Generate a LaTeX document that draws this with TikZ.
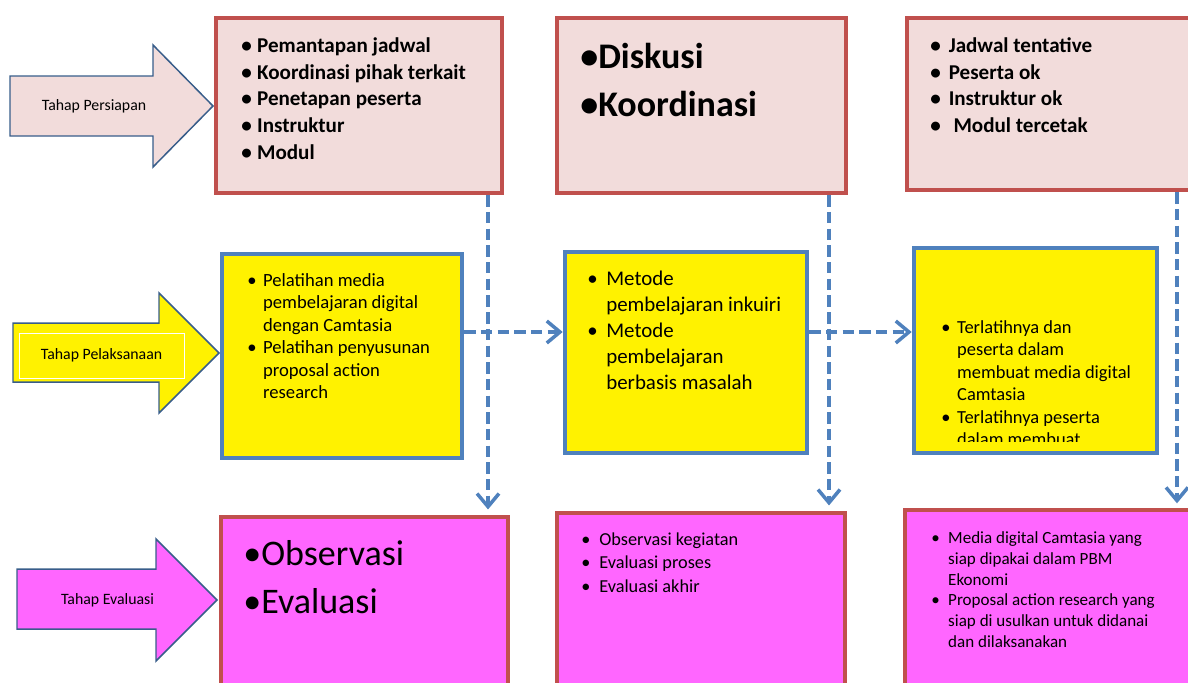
\documentclass[tikz,border=0pt]{standalone}
\usepackage{fontspec}
\setmainfont{Carlito}
\usetikzlibrary{arrows.meta,fit}

\definecolor{boxpink}{HTML}{F2DCDB}
\definecolor{boxred}{HTML}{C0504D}
\definecolor{boxblue}{HTML}{4F81BD}
\definecolor{arrowline}{HTML}{385D8A}
\definecolor{evalpink}{HTML}{FF66FF}

\newlength{\bulw}
\newcommand{\bul}{\makebox[\bulw][l]{\textbullet}}
\newcommand{\cont}{\hspace*{\bulw}}

\tikzset{
  redbox/.style={draw=boxred, line width=2.6pt, inner sep=0pt},
  bluebox/.style={draw=boxblue, line width=2.6pt, fill=yellow, inner sep=0pt},
  phase/.style={draw=arrowline, line width=0.85pt, line join=miter},
  phaselabel/.style={font=\fontsize{9}{11}\selectfont},
  list/.style={anchor=north west, inner sep=0pt, align=left},
  flow/.style={draw=boxblue, line width=2pt, dash pattern=on 6.5pt off 3pt,
    -{Straight Barb[length=7.5pt,width=12.5pt]}},
}

\begin{document}
\begin{tikzpicture}[x=0.02cm, y=-0.02cm]
  \useasboundingbox (0,0) rectangle (1188,683);
  \clip (0,0) rectangle (1188,683);

  % phase arrows
  \filldraw[phase, fill=boxpink] (10,76) -- (153,76) -- (153,45) -- (213,106)
    -- (153,167) -- (153,136) -- (10,136) -- cycle;
  \filldraw[phase, fill=yellow] (13,323) -- (159,323) -- (159,293) -- (219,353)
    -- (159,413) -- (159,382) -- (13,382) -- cycle;
  \filldraw[phase, fill=evalpink] (17,569) -- (156,569) -- (156,539) -- (217,600)
    -- (156,661) -- (156,629) -- (17,629) -- cycle;

  \node[phaselabel] (lprep) at (94,106) {Tahap Persiapan};
  \node[phaselabel, draw=white, line width=0.4pt, minimum width=165*0.02cm,
    minimum height=45*0.02cm] (limpl) at (101.5,355.5) {Tahap Pelaksanaan};
  \node[phaselabel] (leval) at (107.5,600) {Tahap Evaluasi};

  % boxes
  \node[redbox, fill=boxpink, fit={(216,18) (502,193)}] (prep1) {};
  \node[redbox, fill=boxpink, fit={(557,18) (846,193)}] (prep2) {};
  \node[redbox, fill=boxpink, fit={(907,18) (1200,190)}] (prep3) {};
  \node[bluebox, fit={(222,254) (462,458)}] (impl1) {};
  \node[bluebox, fit={(565,252) (807,453)}] (impl2) {};
  \node[bluebox, fit={(914,248) (1157,453)}] (impl3) {};
  \node[redbox, fill=evalpink, fit={(221,517) (508,700)}] (eval1) {};
  \node[redbox, fill=evalpink, fit={(557,513) (845,700)}] (eval2) {};
  \node[redbox, fill=evalpink, fit={(905,510) (1200,700)}] (eval3) {};

  % texts
  \node[list, font={\setlength\bulw{9pt}\fontsize{12}{15.3}\selectfont\bfseries}] (tprep1) at (241,37)
    {\bul Pemantapan jadwal\\ \bul Koordinasi pihak terkait\\ \bul Penetapan peserta\\
     \bul Instruktur\\ \bul Modul};
  \node[list, font={\fontsize{20.5}{27.2}\selectfont\bfseries}] (tprep2) at (580,43)
    {\textbullet Diskusi\\ \textbullet Koordinasi};
  \node[list, font={\setlength\bulw{10.5pt}\fontsize{12}{15.3}\selectfont\bfseries}] (tprep3) at (930,37)
    {\bul Jadwal tentative\\ \bul Peserta ok\\ \bul Instruktur ok\\ \bul\ Modul tercetak};

  \node[list, font={\setlength\bulw{9pt}\fontsize{10.6}{12.8}\selectfont}] (timpl1) at (247,273)
    {\bul Pelatihan media\\ \cont pembelajaran digital\\ \cont dengan Camtasia\\
     \bul Pelatihan penyusunan\\ \cont proposal action\\ \cont research};
  \node[list, font={\setlength\bulw{10.8pt}\fontsize{11.9}{14.7}\selectfont}] (timpl2) at (587,271)
    {\bul Metode\\ \cont pembelajaran inkuiri\\ \bul Metode\\ \cont pembelajaran\\
     \cont berbasis masalah};
  \begin{scope}
    \clip (914,248) rectangle (1157,441);
    \node[list, font={\setlength\bulw{9pt}\fontsize{10.5}{12.8}\selectfont}] (timpl3) at (941,320)
      {\bul Terlatihnya dan\\ \cont peserta dalam\\ \cont membuat media digital\\
       \cont Camtasia\\ \bul Terlatihnya peserta\\ \cont dalam membuat};
  \end{scope}

  \node[list, font={\fontsize{20.5}{27.2}\selectfont}] (teval1) at (243,540)
    {\textbullet Observasi\\ \textbullet Evaluasi};
  \node[list, font={\setlength\bulw{10.2pt}\fontsize{10.4}{13.6}\selectfont}] (teval2) at (581,532)
    {\bul Observasi kegiatan\\ \bul Evaluasi proses\\ \bul Evaluasi akhir};
  \node[list, font={\setlength\bulw{9.6pt}\fontsize{9.7}{11.9}\selectfont}] (teval3) at (931,531)
    {\bul Media digital Camtasia yang\\ \cont siap dipakai dalam PBM\\ \cont Ekonomi\\
     \bul Proposal action research yang\\ \cont siap di usulkan untuk didanai\\
     \cont dan dilaksanakan};

  % dashed connectors
  \coordinate (xv1) at (488,0);
  \coordinate (xv2) at (829,0);
  \coordinate (xv3) at (1177,0);
  \coordinate (yh) at (0,332);
  \draw[flow, shorten >=3pt] (prep1.south -| xv1) -- (eval1.north -| xv1);
  \draw[flow, shorten >=3pt] (prep2.south -| xv2) -- (eval2.north -| xv2);
  \draw[flow, shorten >=2.5pt] (prep3.south -| xv3) -- (eval3.north -| xv3);
  \draw[flow] (impl1.east |- yh) -- (impl2.west |- yh);
  \draw[flow] (impl2.east |- yh) -- (impl3.west |- yh);
\end{tikzpicture}
\end{document}
